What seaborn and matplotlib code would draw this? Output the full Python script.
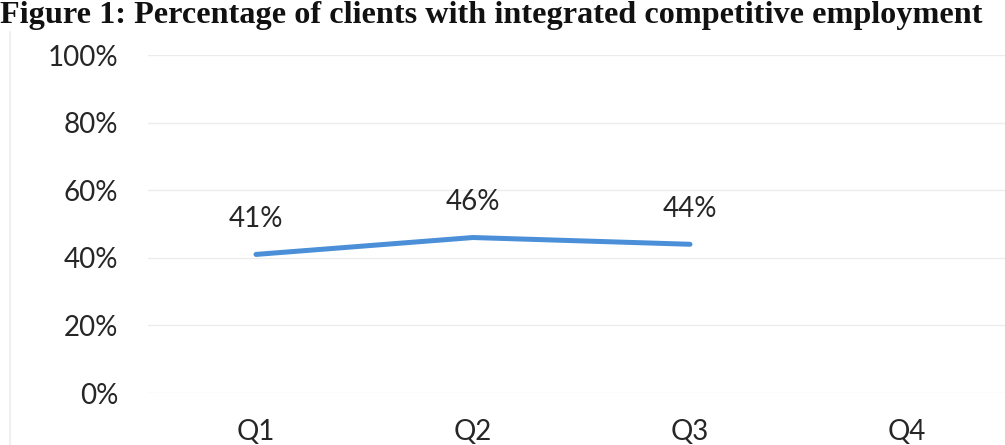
import numpy as np
import matplotlib.pyplot as plt
import seaborn as sns
import pandas as pd

quarters = ['Q1', 'Q2', 'Q3', 'Q4']
pct = [41, 46, 44, np.nan]
yticks = [0, 20, 40, 60, 80, 100]
title = 'Figure 1: Percentage of clients with integrated competitive employment'

sns.set_style('white')
plt.rcParams['font.family'] = ['Lato', 'DejaVu Sans']

df = pd.DataFrame({'quarter': quarters, 'pct': pct})

fig = plt.figure(figsize=(10.05, 4.45), dpi=100)
ax = fig.add_axes([147.5 / 1005, (445 - 393) / 445, 868 / 1005, 338 / 445])

sns.lineplot(data=df, x='quarter', y='pct', ax=ax, color='#4a8fd8', linewidth=3.6,
             sort=False)

for q, v in zip(quarters, pct):
    if not np.isnan(v):
        ax.annotate(f'{v:.0f}%', (q, v), xytext=(0, 16), textcoords='offset points',
                    ha='center', va='bottom', fontsize=20, color='#262626')

ax.set_xlim(-0.5, 3.5)
ax.set_ylim(0, 100)
ax.set_yticks(yticks)
ax.set_yticklabels([f'{t}%' for t in yticks])
ax.grid(axis='y', color='#ececec', linewidth=1)
ax.set_axisbelow(True)
for s in ax.spines.values():
    s.set_visible(False)
ax.tick_params(axis='y', labelsize=20, labelcolor='#262626', pad=21, length=0)
ax.tick_params(axis='x', labelsize=20, labelcolor='#262626', pad=19, length=0)
ax.set_xlabel('')
ax.set_ylabel('')

fig.text(0.0, 1 - 23 / 445, title, fontsize=23.2, fontweight='bold',
         family=['Liberation Serif', 'DejaVu Serif'], ha='left', va='baseline',
         color='#111111')
fig.add_artist(plt.Line2D([10 / 1005, 10 / 1005], [0, 1 - 32 / 445],
                          color='#f0f0f0', linewidth=1.5))

fig.savefig('out.png', dpi=100)
